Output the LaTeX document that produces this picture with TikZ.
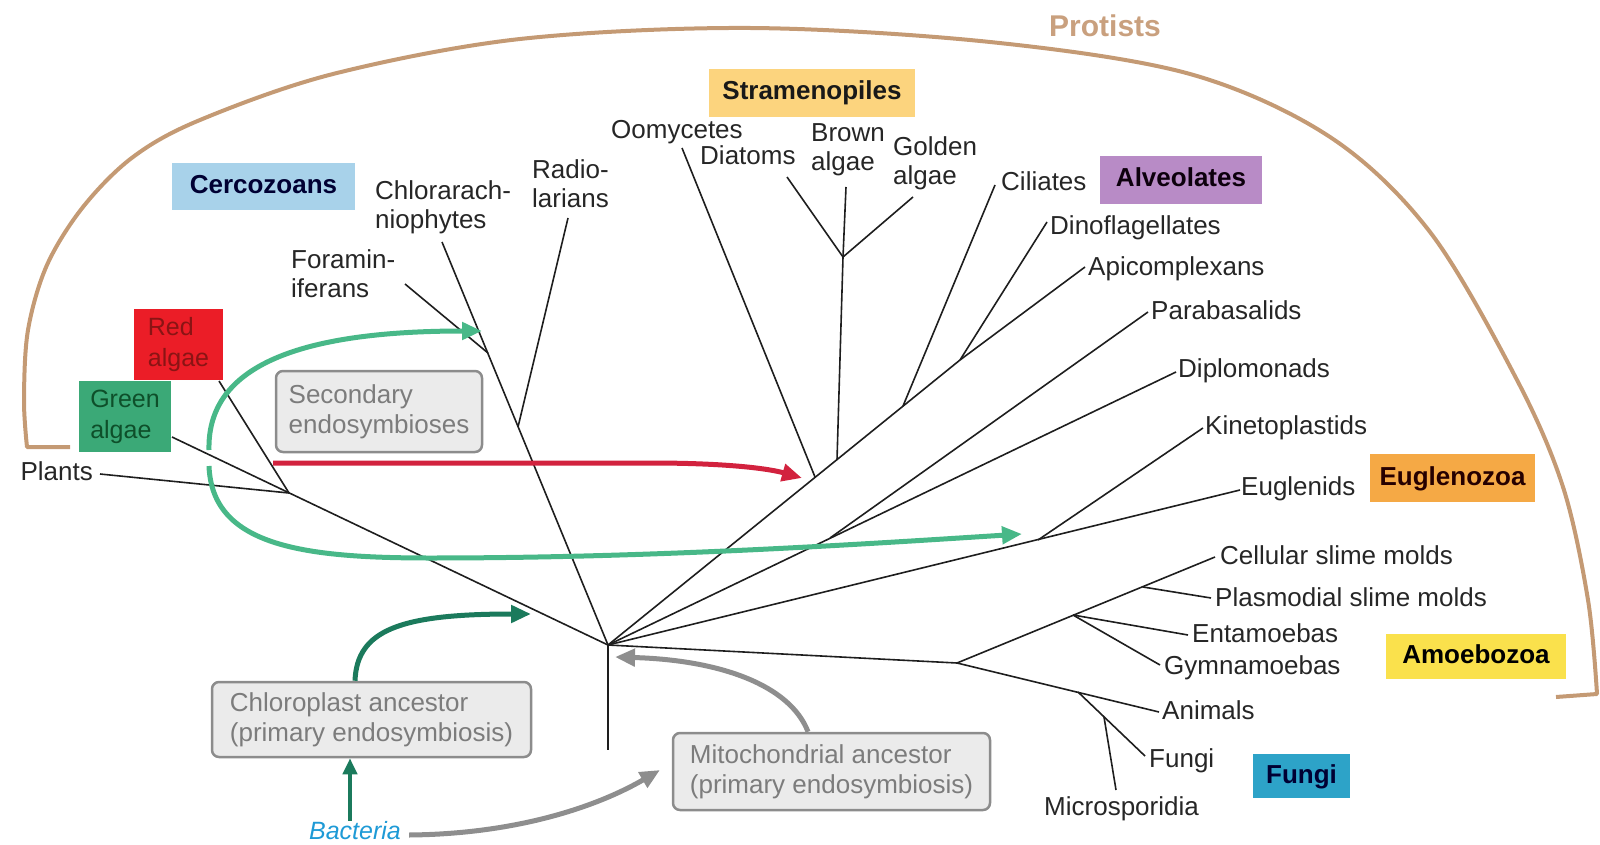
\documentclass[tikz,border=0pt]{standalone}
\usepackage{fontspec}
\setmainfont{Liberation Sans}
\usetikzlibrary{arrows.meta}
\definecolor{treeline}{HTML}{1E1E1E}
\definecolor{labeltext}{HTML}{262626}
\definecolor{tanarc}{HTML}{C49A74}
\definecolor{protisttext}{HTML}{C9A07E}
\definecolor{stramfill}{HTML}{FCD47E}
\definecolor{alveofill}{HTML}{B88BC6}
\definecolor{cercofill}{HTML}{A8D2EA}
\definecolor{euglfill}{HTML}{F5A945}
\definecolor{amoefill}{HTML}{FAE14C}
\definecolor{fungifill}{HTML}{2DA3C8}
\definecolor{redfill}{HTML}{EB1D27}
\definecolor{greenfill}{HTML}{3BA977}
\definecolor{redtext}{HTML}{8A1414}
\definecolor{greentext}{HTML}{0E4F2A}
\definecolor{grayfill}{HTML}{EBEBEB}
\definecolor{graydraw}{HTML}{8C8C8C}
\definecolor{graytext}{HTML}{7C7C7C}
\definecolor{arrowred}{HTML}{D2223E}
\definecolor{arrowgreen}{HTML}{48B888}
\definecolor{darkgreen}{HTML}{1B7A5C}
\definecolor{arrowgray}{HTML}{8E8E8E}
\definecolor{bactblue}{HTML}{1E9AD6}
\begin{document}
\begin{tikzpicture}[x=1pt,y=-1pt,
  leaf/.style={font=\fontsize{26}{29}\selectfont, text=labeltext, inner sep=0pt, align=left, anchor=west},
  one/.style={text height=18pt, text depth=4pt},
  grp/.style={font=\fontsize{26}{29}\selectfont\bfseries, inner sep=0pt, anchor=center, text height=18pt, text depth=4pt},
  algbox/.style={font=\fontsize{25}{31}\selectfont, inner sep=0pt, align=left, anchor=center},
  graybox/.style={draw=graydraw, fill=grayfill, line width=2.5pt, rounded corners=7pt, text=graytext,
    font=\fontsize{26}{30}\selectfont, align=left, inner sep=0pt, anchor=center},
  branch/.style={line width=1.6pt, draw=treeline},
  fatarrow/.style={line width=5pt, -{Triangle[length=20pt,width=17pt]}}
]
\useasboundingbox (0,0) rectangle (1600,845);

% Protists arc
\draw[tanarc, line width=4pt, line join=round] (70,447) -- plot[smooth, tension=0.55] coordinates {
  (27,447) (24,400) (28,330) (47,265) (83,207) (133,157) (200,120) (333,74) (520,39) (750,28)
  (990,42) (1190,74) (1330,137) (1430,232) (1517,380) (1563,487) (1588,600) (1597,694)} -- (1556,697);
\node[font=\fontsize{30}{34}\selectfont\bfseries, text=protisttext, inner sep=0pt] (protists) at (1105,26) {Protists};

% tree coordinates
\coordinate (R) at (608,645);
\coordinate (Rb) at (608,750);
\coordinate (G) at (172,437);
\coordinate (P) at (289,493);
\coordinate (Pl) at (100,474);
\coordinate (Ra) at (219,381);
\coordinate (Chl) at (442,242);
\coordinate (F) at (488,353);
\coordinate (Fo) at (405,284);
\coordinate (Rd) at (518,427);
\coordinate (Rdl) at (568,218);
\coordinate (A) at (960,360);
\coordinate (O1) at (815,477);
\coordinate (Oo) at (682,148);
\coordinate (S1) at (837,460);
\coordinate (S) at (843,257);
\coordinate (Di) at (787,177);
\coordinate (Br) at (846,187);
\coordinate (Go) at (913,197);
\coordinate (C1) at (903,406);
\coordinate (Ci) at (995,185);
\coordinate (Dn) at (1047,222);
\coordinate (Ap) at (1085,267);
\coordinate (Dp) at (1176,372);
\coordinate (D1) at (830,538);
\coordinate (Pb) at (1148,312);
\coordinate (Eu) at (1240,490);
\coordinate (E) at (1038,540);
\coordinate (Ki) at (1203,428);
\coordinate (U) at (957,663);
\coordinate (Ce) at (1215,557);
\coordinate (Am1) at (1143,587);
\coordinate (Pm) at (1211,598);
\coordinate (Am2) at (1073,615);
\coordinate (En) at (1188,635);
\coordinate (Gy) at (1160,665);
\coordinate (An) at (1159,712);
\coordinate (Op) at (1078,692);
\coordinate (Fu) at (1145,756);
\coordinate (Ms1) at (1104,717);
\coordinate (Ms) at (1116,790);

% branches
\draw[branch] (R) -- (Rb);
\draw[branch] (R) -- (G);
\draw[branch] (Pl) -- (P);
\draw[branch] (Ra) -- (P);
\draw[branch] (R) -- (Chl);
\draw[branch] (Fo) -- (F);
\draw[branch] (Rdl) -- (Rd);
\draw[branch] (R) -- (A);
\draw[branch] (Oo) -- (O1);
\draw[branch] (S1) -- (S);
\draw[branch] (Di) -- (S);
\draw[branch] (Br) -- (S);
\draw[branch] (Go) -- (S);
\draw[branch] (Ci) -- (C1);
\draw[branch] (Dn) -- (A);
\draw[branch] (Ap) -- (A);
\draw[branch] (R) -- (Dp);
\draw[branch] (Pb) -- (D1);
\draw[branch] (R) -- (Eu);
\draw[branch] (Ki) -- (E);
\draw[branch] (R) -- (U);
\draw[branch] (U) -- (Ce);
\draw[branch] (Am1) -- (Pm);
\draw[branch] (Am2) -- (En);
\draw[branch] (Am2) -- (Gy);
\draw[branch] (U) -- (An);
\draw[branch] (Op) -- (Fu);
\draw[branch] (Ms1) -- (Ms);

% leaf labels
\node[leaf, one, anchor=east] (plants) at (93,473) {Plants};
\node[leaf] (foram) at (291,274) {Foramin-\\iferans};
\node[leaf] (chlor) at (375,207) {Chlorarach-\\niophytes};
\node[leaf] (radio) at (532,184) {Radio-\\larians};
\node[leaf, one] (oomy) at (611,132) {Oomycetes};
\node[leaf, one] (diat) at (700,158) {Diatoms};
\node[leaf] (brown) at (811,150) {Brown\\algae};
\node[leaf] (golden) at (893,163) {Golden\\algae};
\node[leaf, one] (cil) at (1001,183) {Ciliates};
\node[leaf, one] (dino) at (1050,227) {Dinoflagellates};
\node[leaf, one] (apic) at (1088,268) {Apicomplexans};
\node[leaf, one] (para) at (1151,312) {Parabasalids};
\node[leaf, one] (dipl) at (1178,370) {Diplomonads};
\node[leaf, one] (kine) at (1205,427) {Kinetoplastids};
\node[leaf, one] (eugl) at (1241,488) {Euglenids};
\node[leaf, one] (cell) at (1220,557) {Cellular slime molds};
\node[leaf, one] (plas) at (1215,599) {Plasmodial slime molds};
\node[leaf, one] (enta) at (1192,635) {Entamoebas};
\node[leaf, one] (gymn) at (1164,667) {Gymnamoebas};
\node[leaf, one] (anim) at (1162,712) {Animals};
\node[leaf, one] (fung) at (1149,760) {Fungi};
\node[leaf, one] (micro) at (1044,808) {Microsporidia};

% group boxes
\node[grp, fill=stramfill, minimum width=206pt, minimum height=48pt, text=black!90] (stram) at (812,93) {Stramenopiles};
\node[grp, fill=alveofill, minimum width=162pt, minimum height=48pt, text=black!90!violet] (alveo) at (1181,180) {Alveolates};
\node[grp, fill=cercofill, minimum width=183pt, minimum height=47pt, text=black!80!blue] (cerco) at (263.5,186.5) {Cercozoans};
\node[grp, fill=euglfill, minimum width=165pt, minimum height=48pt, text=black!85!red] (eugz) at (1452.5,478) {Euglenozoa};
\node[grp, fill=amoefill, minimum width=180pt, minimum height=45pt, text=black] (amoe) at (1476,656.5) {Amoebozoa};
\node[grp, fill=fungifill, minimum width=97pt, minimum height=44pt, text=black!80!blue] (fungi) at (1301.5,776) {Fungi};
\node[algbox, fill=redfill, minimum width=89pt, minimum height=71pt, text=redtext] (redalg) at (178.5,344.5) {Red\\algae};
\node[algbox, fill=greenfill, minimum width=92pt, minimum height=71pt, text=greentext] (greenalg) at (125,416.5) {Green\\algae};

% gray boxes
\node[graybox, minimum width=206pt, minimum height=81pt] (second) at (379,411.5) {Secondary\\endosymbioses};
\node[graybox, minimum width=319pt, minimum height=75pt] (chloro) at (371.5,719.5) {Chloroplast ancestor\\(primary endosymbiosis)};
\node[graybox, minimum width=317pt, minimum height=77pt] (mito) at (831.5,771.5) {Mitochondrial ancestor\\(primary endosymbiosis)};
\node[font=\fontsize{25}{30}\selectfont\itshape, text=bactblue, inner sep=0pt, text height=18pt, text depth=4pt] (bact) at (355,832) {Bacteria};

% arrows
\coordinate (redS) at (273,463);
\coordinate (redE) at (802,478);
\draw[fatarrow, arrowred] (redS) -- (650,463) .. controls (730,463) and (770,469) .. (redE);
\coordinate (gS1) at (209,450);
\coordinate (gE1) at (482,331);
\draw[fatarrow, arrowgreen] (gS1) .. controls (207,370) and (290,331) .. (gE1);
\coordinate (gS2) at (209,466);
\coordinate (gE2) at (1022,534);
\draw[fatarrow, arrowgreen] (gS2) .. controls (212,545) and (300,558) .. (430,558) .. controls (650,558) and (850,545) .. (gE2);
\coordinate (dgE) at (531,614);
\draw[fatarrow, darkgreen] (chloro.north -| 355,0) .. controls (357,630) and (400,614) .. (dgE);
\draw[line width=4.5pt, darkgreen, -{Triangle[length=16pt,width=14pt]}] (bact.north -| 350,0) -- (chloro.south -| 350,0);
\coordinate (mgE) at (660,770);
\draw[fatarrow, arrowgray] (bact.east) ++(8,3) .. controls (520,834) and (600,805) .. (mgE);
\coordinate (mrE) at (615,657);
\draw[fatarrow, arrowgray] (mito.north -| 808,0) .. controls (790,685) and (720,660) .. (mrE);
\end{tikzpicture}
\end{document}
